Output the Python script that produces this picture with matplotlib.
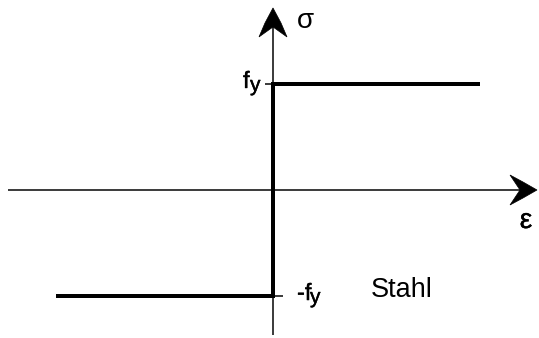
import matplotlib
matplotlib.use("Agg")
import matplotlib.pyplot as plt
import matplotlib.transforms as mtransforms
import matplotlib.patheffects as pe
from matplotlib.patches import Polygon

# Idealised rigid-plastic stress-strain law for steel
strain = [-2.17, 0.0, 0.0, 2.07]
stress = [-1.0, -1.0, 1.0, 1.0]
fy = 1.0
level_values = [fy, -fy]
level_labels = ["f", "-f"]
level_sub = "y"

FONT = "Liberation Sans"
W, H, DPI = 539, 338, 100
semi = [pe.withStroke(linewidth=0.3, foreground="black")]

fig = plt.figure(figsize=(W / DPI, H / DPI), dpi=DPI)
ax = fig.add_axes([0, 0, 1, 1])
ax.set_xlim(-2.73, 2.66)
ax.set_ylim(-1.396, 1.792)
ax.axis("off")


def px(v):
    """pixels -> points"""
    return v * 72.0 / DPI


thin = px(1.5)
thick = px(4.0)

# coordinate axes
x_lo, x_hi = -2.65, 2.64
y_lo, y_hi = -1.368, 1.717
ax.plot([x_lo, x_hi - 0.15], [0, 0], color="black", lw=thin, solid_capstyle="butt")
ax.plot([0, 0], [y_lo, y_hi - 0.15], color="black", lw=thin, solid_capstyle="butt")


def arrow_head(tip, verts):
    tr = fig.dpi_scale_trans + mtransforms.ScaledTranslation(tip[0], tip[1], ax.transData)
    pts = [(vx / DPI, vy / DPI) for vx, vy in verts]
    ax.add_patch(Polygon(pts, closed=True, transform=tr, facecolor="black",
                         edgecolor="black", lw=0.5, joinstyle="miter"))


arrow_head((0, y_hi), [(0, 0), (-8, -15), (-14, -29), (0, -19), (14, -29), (8, -15)])
arrow_head((x_hi, 0), [(0, 0), (-14, 8), (-27, 15), (-17, 0), (-27, -15), (-14, -8)])

# stress-strain curve
ax.plot(strain, stress, color="black", lw=thick, solid_joinstyle="miter",
        solid_capstyle="butt")

# small ticks and labels at the yield levels
for val, lab in zip(level_values, level_labels):
    if val > 0:
        off0, off1 = -8, 18
        tx = -30
        wshift = 7
    else:
        off0, off1 = 0, 10
        tx = 24
        wshift = 13
    ax.plot([off0 / 100.0, off1 / 100.0], [val, val], color="black", lw=thin,
            solid_capstyle="butt")
    ax.annotate(lab, xy=(0, val), xytext=(px(tx), px(-4)), textcoords="offset points",
                ha="left", va="baseline", fontsize=17, family=FONT, path_effects=semi)
    ax.annotate(level_sub, xy=(0, val), xytext=(px(tx + wshift), px(-7)),
                textcoords="offset points", ha="left", va="baseline",
                fontsize=15, family=FONT, path_effects=semi)

# axis names
ax.annotate("σ", xy=(0, y_hi), xytext=(px(24), px(-13)), textcoords="offset points",
            ha="left", va="center", fontsize=20, family=FONT)
ax.annotate("ε", xy=(x_hi, 0), xytext=(px(-11), px(-31)), textcoords="offset points",
            ha="center", va="center", fontsize=20, family=FONT, path_effects=semi)

ax.annotate("Stahl", xy=(0, -fy), xytext=(px(98), px(-1)), textcoords="offset points",
            ha="left", va="baseline", fontsize=19.5, family=FONT)

fig.savefig("out.png", dpi=DPI)
